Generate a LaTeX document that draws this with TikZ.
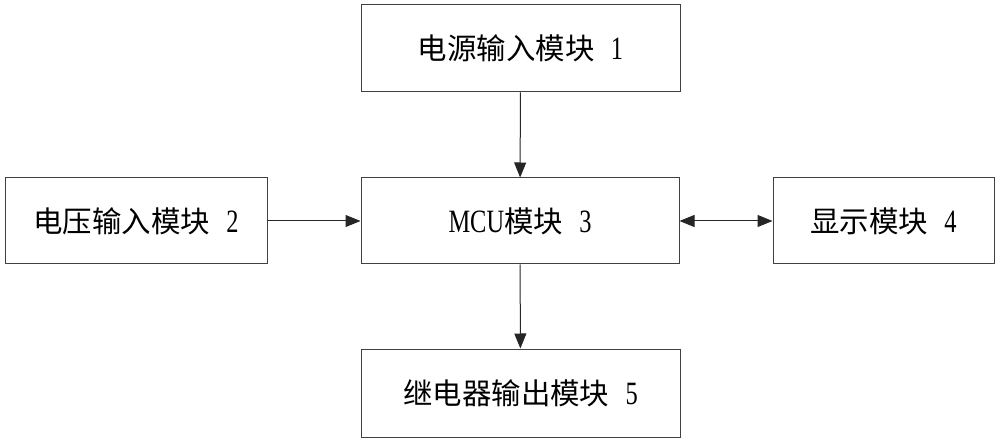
\documentclass[tikz,border=0pt]{standalone}
\usepackage{fontspec}
\setmainfont{Liberation Serif}
\newfontfamily\cjk{Noto Sans CJK SC}[Scale=0.95]
\newfontfamily\lat{Liberation Serif}[FakeStretch=0.75,Scale=1.05]
\usetikzlibrary{arrows.meta}
\begin{document}
\begin{tikzpicture}[x=1pt,y=-1pt,
  blk/.style={draw=black!75,line width=1pt,inner sep=0pt,font=\fontsize{31}{34}\selectfont},
  conn/.style={draw=black!85,line width=1pt,-{Triangle[length=15pt,width=12pt]}}]
\newcommand\gap{\hspace{0.55em}}
\useasboundingbox (0,0) rectangle (1000,443);
\node[blk,minimum width=319pt,minimum height=87pt] (pwr) at (520.5,48.5) {\cjk 电源输入模块\gap\lat 1};
\node[blk,minimum width=318pt,minimum height=86pt] (mcu) at (520,221) {\lat MCU\cjk 模块\gap\lat 3};
\node[blk,minimum width=262pt,minimum height=86pt] (vin) at (136,221) {\cjk 电压输入模块\gap\lat 2};
\node[blk,minimum width=221pt,minimum height=86pt] (disp) at (883.5,221) {\cjk 显示模块\gap\lat 4};
\node[blk,minimum width=319pt,minimum height=88pt] (rel) at (520.5,393) {\cjk 继电器输出模块\gap\lat 5};
\draw[conn] (pwr) -- (mcu);
\draw[conn] (vin) -- (mcu);
\draw[conn,{Triangle[length=15pt,width=12pt]}-{Triangle[length=15pt,width=12pt]}] (mcu) -- (disp);
\draw[conn] (mcu) -- (rel);
\end{tikzpicture}
\end{document}
